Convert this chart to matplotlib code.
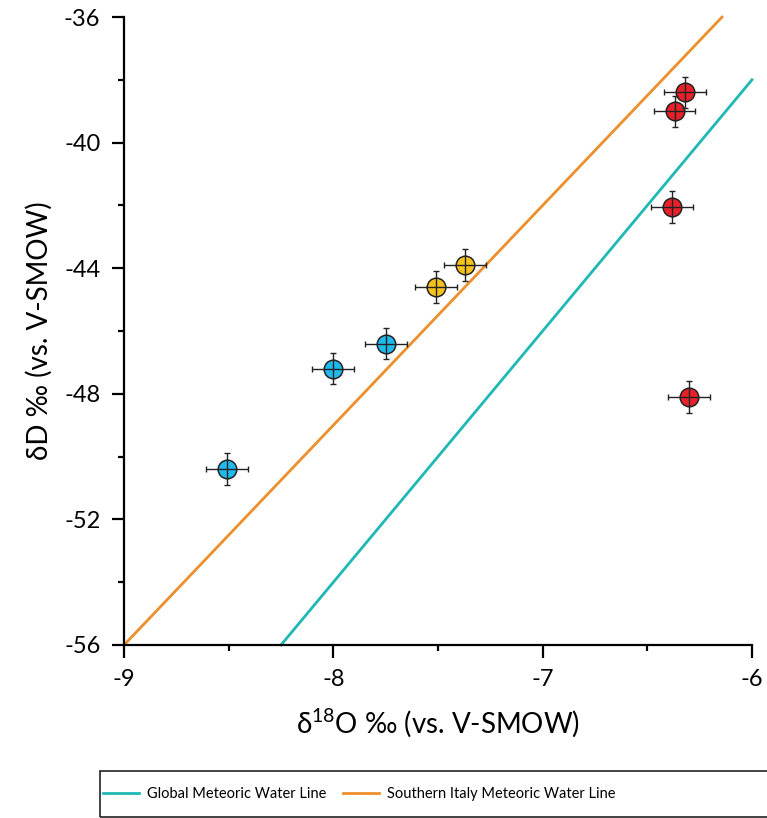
import matplotlib.pyplot as plt
import numpy as np
from matplotlib.ticker import MultipleLocator
from matplotlib.patches import Rectangle

plt.rcParams['font.family'] = ['Lato', 'DejaVu Sans']
plt.rcParams['axes.unicode_minus'] = False
plt.rcParams['mathtext.fontset'] = 'custom'
plt.rcParams['mathtext.rm'] = 'Lato'

# samples: d18O, dD and their uncertainties
d18O_red = [-6.32, -6.37, -6.38, -6.30]
dD_red = [-38.4, -39.0, -42.05, -48.1]
d18O_yel = [-7.51, -7.37]
dD_yel = [-44.6, -43.9]
d18O_blue = [-7.75, -8.00, -8.51]
dD_blue = [-46.4, -47.2, -50.4]
err_x = 0.1
err_y = 0.5

# meteoric water lines (slope, intercept, x range)
gmwl = (8, 10, -8.25, -6.0)
simwl = (7, 7, -9.0, -6.143)

fig = plt.figure(figsize=(7.67, 8.18), dpi=100)
ax = fig.add_axes([0.1617, 0.2115, 0.8187, 0.7677])

for (m, q, x0, x1), c, lab in [(gmwl, '#1fb8b4', 'Global Meteoric Water Line'),
                               (simwl, '#ec8f2c', 'Southern Italy Meteoric Water Line')]:
    xs = np.array([x0, x1])
    ax.plot(xs, m * xs + q, color=c, lw=2, label=lab, zorder=1, clip_on=False)

for xs, ys, c in [(d18O_red, dD_red, '#e8202a'),
                  (d18O_yel, dD_yel, '#f6c21c'),
                  (d18O_blue, dD_blue, '#1fb9ec')]:
    ax.scatter(xs, ys, s=180, color=c, edgecolors='#222222', linewidths=1.1, zorder=2)
    ax.errorbar(xs, ys, xerr=err_x, yerr=err_y, fmt='none', ecolor='#222222',
                elinewidth=1, capsize=2.5, capthick=1, zorder=3)

ax.set_xlim(-9, -6)
ax.set_ylim(-56, -36)
ax.xaxis.set_major_locator(MultipleLocator(1))
ax.xaxis.set_minor_locator(MultipleLocator(0.5))
ax.yaxis.set_major_locator(MultipleLocator(4))
ax.yaxis.set_minor_locator(MultipleLocator(2))
ax.spines['top'].set_visible(False)
ax.spines['right'].set_visible(False)
for s in ['left', 'bottom']:
    ax.spines[s].set_linewidth(1.6)
ax.tick_params(which='major', length=9, width=1.6, labelsize=17, pad=8)
ax.tick_params(which='minor', length=4.5, width=1.6)

ax.set_xlabel('δ$^{18}$O ‰ (vs. V-SMOW)', fontsize=20, labelpad=12)
ax.set_ylabel('δD ‰ (vs. V-SMOW)', fontsize=20, labelpad=8)

# legend box runs past the right edge of the figure
fig.patches.append(Rectangle((100 / 767, 1 / 818), 700 / 767, 46 / 818,
                             transform=fig.transFigure, fill=False,
                             edgecolor='#222222', lw=1.2))
fig.legend(loc='center left', bbox_to_anchor=(103 / 767, 24 / 818),
           ncol=2, fontsize=10.5, frameon=False, handlelength=2.5,
           handletextpad=0.55, columnspacing=1.1, borderaxespad=0, borderpad=0)

fig.savefig('out.png', dpi=100)
